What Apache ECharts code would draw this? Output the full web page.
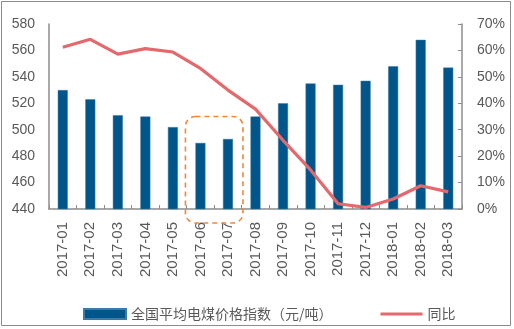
<!DOCTYPE html>
<html><head><meta charset="utf-8">
<script src="https://cdn.jsdelivr.net/npm/echarts@6/dist/echarts.min.js"></script>
<style>html,body{margin:0;padding:0;background:#fff}#c{width:514px;height:329px}</style>
</head><body><div id="c"></div>
<script>
const categories = ['2017-01','2017-02','2017-03','2017-04','2017-05','2017-06','2017-07','2017-08','2017-09','2017-10','2017-11','2017-12','2018-01','2018-02','2018-03'];
const priceIndex = [530, 523, 511, 510, 502, 490, 493, 510, 520, 535, 534, 537, 548, 568, 547];
const yoy = [61.2, 64.2, 58.6, 60.7, 59.4, 53.2, 45.0, 37.8, 26.0, 14.8, 2.0, 0.6, 3.8, 8.8, 6.5];
const leftTicks = {min: 440, max: 580, interval: 20};
const rightTicks = {min: 0, max: 70, interval: 10};
const seriesNames = ['全国平均电煤价格指数（元/吨）', '同比'];

const chart = echarts.init(document.getElementById('c'));
const lab = {color: '#595959', fontFamily: 'Liberation Sans, Arial, sans-serif', fontSize: 14};
chart.setOption({
  animation: false,
  grid: {left: 49, right: 52, top: 24, bottom: 120},
  legend: {
    left: 78, top: 302, itemWidth: 42, itemHeight: 10, itemGap: 48,
    textStyle: {color: '#595959', fontSize: 14, fontFamily: 'Noto Sans CJK SC, sans-serif'},
    data: [{name: seriesNames[0], icon: 'rect'},
           {name: seriesNames[1], icon: 'path://M0,0 L44,0 L44,3.2 L0,3.2 Z'}]
  },
  xAxis: {
    type: 'category', data: categories,
    axisLine: {lineStyle: {color: '#8c8c8c', width: 1.5}},
    axisTick: {show: true, inside: true, length: 4, lineStyle: {color: '#8c8c8c'}},
    axisLabel: Object.assign({}, lab, {rotate: 90, fontSize: 15, margin: 13, interval: 0})
  },
  yAxis: [{
    type: 'value', min: leftTicks.min, max: leftTicks.max, interval: leftTicks.interval,
    splitLine: {show: false},
    axisLine: {show: true, lineStyle: {color: '#8c8c8c', width: 1.5}},
    axisTick: {show: false},
    axisLabel: Object.assign({}, lab, {margin: 14})
  }, {
    type: 'value', min: rightTicks.min, max: rightTicks.max, interval: rightTicks.interval,
    splitLine: {show: false},
    axisLine: {show: true, lineStyle: {color: '#8c8c8c', width: 1.5}},
    axisTick: {show: true, inside: true, length: 4, lineStyle: {color: '#8c8c8c'}},
    axisLabel: Object.assign({}, lab, {margin: 15, formatter: '{value}%'})
  }],
  series: [{
    name: seriesNames[0], type: 'bar', data: priceIndex, barWidth: 10,
    itemStyle: {color: '#00558a', borderColor: '#3f7aa6', borderWidth: 0.5}
  }, {
    name: seriesNames[1], type: 'line', yAxisIndex: 1, data: yoy,
    symbol: 'none', smooth: false,
    lineStyle: {color: '#e3696d', width: 3.2},
    itemStyle: {color: '#e3696d'}
  }]
});

// annotation box around 2017-06 / 2017-07 and outer frame
const p6 = chart.convertToPixel({xAxisIndex: 0, yAxisIndex: 0}, [categories[5], 510]);
const p7 = chart.convertToPixel({xAxisIndex: 0, yAxisIndex: 0}, [categories[6], 440]);
chart.setOption({
  graphic: [{
    type: 'rect', z: 100,
    shape: {x: p6[0] - 15, y: p6[1], width: (p7[0] - p6[0]) + 30, height: (p7[1] + 14) - p6[1], r: 10},
    style: {fill: 'none', stroke: '#f0883a', lineWidth: 1.6, lineDash: [5, 4]}
  }, {
    type: 'rect', z: 100,
    shape: {x: 1.5, y: 1.5, width: 509, height: 324},
    style: {fill: 'none', stroke: '#8c8c8c', lineWidth: 1}
  }]
});
</script></body></html>
